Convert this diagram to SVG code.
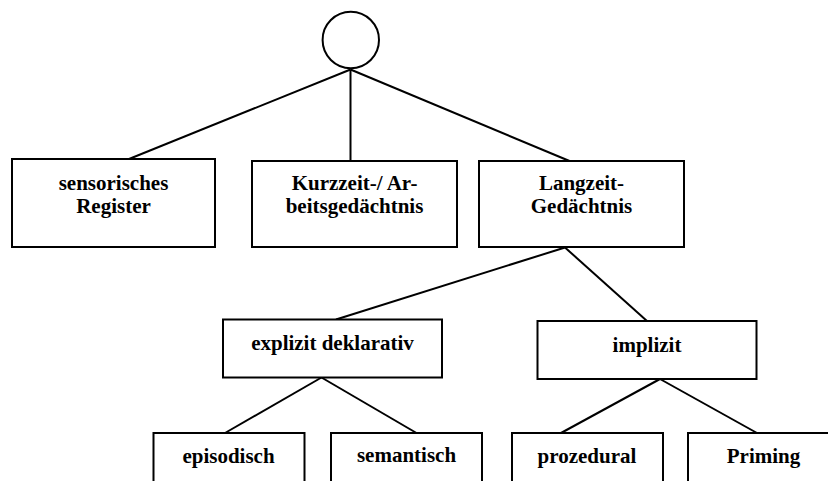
<svg xmlns="http://www.w3.org/2000/svg" width="828" height="481" viewBox="0 0 828 481">
<style>
.box{fill:#fff;stroke:#000;stroke-width:2}
.ln{stroke:#000;stroke-width:2;fill:none}
text{font-family:"Liberation Serif","Times New Roman",serif;font-weight:bold;font-size:21px;text-anchor:middle;fill:#000}
</style>
<rect width="828" height="481" fill="#fff"/>
<g id="connectors">
<line class="ln" x1="350.5" y1="69.5" x2="129" y2="159"/>
<line class="ln" x1="350.5" y1="69.5" x2="350.5" y2="161"/>
<line class="ln" x1="350.5" y1="69.5" x2="569.5" y2="161"/>
<line class="ln" x1="565" y1="247.5" x2="336" y2="319.5"/>
<line class="ln" x1="565" y1="247.5" x2="647" y2="321"/>
<line class="ln" x1="321.5" y1="377.5" x2="225" y2="433"/>
<line class="ln" x1="321.5" y1="377.5" x2="416.5" y2="433"/>
<line class="ln" x1="660" y1="379" x2="561" y2="433"/>
<line class="ln" x1="660" y1="379" x2="757" y2="433"/>
</g>
<g id="root"><circle class="box" cx="350.8" cy="40" r="28.2"/></g>
<g id="sensorisch"><rect class="box" x="12" y="159" width="203" height="88"/><text x="113.5" y="190">sensorisches</text><text x="113.5" y="213">Register</text></g>
<g id="kurzzeit"><rect class="box" x="252" y="161" width="205" height="86"/><text x="354.5" y="190">Kurzzeit-/ Ar-</text><text x="354.5" y="213">beitsgedächtnis</text></g>
<g id="langzeit"><rect class="box" x="479" y="161" width="205" height="86"/><text x="581.5" y="190">Langzeit-</text><text x="581.5" y="213">Gedächtnis</text></g>
<g id="explizit"><rect class="box" x="223" y="319.5" width="219" height="58"/><text x="332.5" y="350">explizit deklarativ</text></g>
<g id="implizit"><rect class="box" x="537.5" y="321" width="219" height="58"/><text x="647" y="352">implizit</text></g>
<g id="episodisch"><rect class="box" x="153.5" y="433" width="151" height="60"/><text x="228.5" y="463">episodisch</text></g>
<g id="semantisch"><rect class="box" x="331" y="433" width="151" height="60"/><text x="406.5" y="462">semantisch</text></g>
<g id="prozedural"><rect class="box" x="512" y="433" width="151" height="60"/><text x="587" y="463">prozedural</text></g>
<g id="priming"><rect class="box" x="688" y="433" width="160" height="60"/><text x="763.5" y="463">Priming</text></g>
</svg>
